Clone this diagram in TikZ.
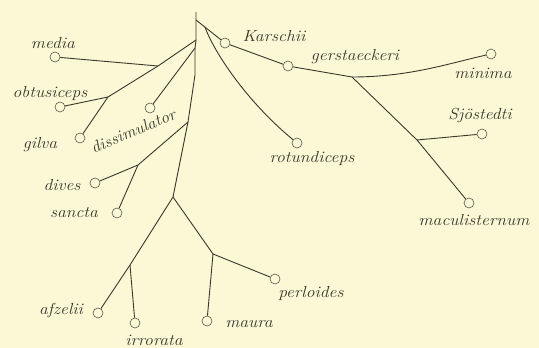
\documentclass[tikz,border=0pt]{standalone}
\usepackage{fontspec}
\definecolor{paper}{HTML}{FCF8D6}
\definecolor{ink}{HTML}{3A372C}
\definecolor{ringc}{HTML}{5A564C}
\tikzset{
  leaf/.style={circle,draw=ringc,line width=0.6pt,fill=paper,minimum size=10pt,inner sep=0pt},
  branch/.style={draw=ink,line width=0.9pt,line join=round},
  taxon/.style={text=ink,inner sep=0pt,xscale=1.1,transform shape,
    font=\fontsize{16}{16}\selectfont\itshape\addfontfeature{LetterSpace=12}}
}
\begin{document}
\begin{tikzpicture}[x=1pt,y=-1pt]
\fill[paper] (0,0) rectangle (539,348);
\useasboundingbox (0,0) rectangle (539,348);

% forks along the main stem
\coordinate (top) at (196,12);
\coordinate (kb)  at (196,20);
\coordinate (rb)  at (205,27);
\coordinate (jm)  at (196,40);
\coordinate (jd)  at (195,48);
\coordinate (t1)  at (195,75);
\coordinate (jdv) at (188,122);
\coordinate (t2)  at (178,172);
\coordinate (jlow) at (173,197);
% side forks
\coordinate (jmed) at (158,66);
\coordinate (job)  at (108,97);
\coordinate (jds)  at (138,165);
\coordinate (jaf)  at (130,265);
\coordinate (jma)  at (213,254);
\coordinate (jge)  at (352,77);
\coordinate (jsj)  at (417,140);

% terminal rings
\node[leaf] (media)        at (55,57)  {};
\node[leaf] (obtusiceps)   at (60,107) {};
\node[leaf] (gilva)        at (80,138) {};
\node[leaf] (dissimulator) at (150,108) {};
\node[leaf] (dives)        at (95,183) {};
\node[leaf] (sancta)       at (117,213) {};
\node[leaf] (afzelii)      at (98,313) {};
\node[leaf] (irrorata)     at (135,323) {};
\node[leaf] (maura)        at (207,321) {};
\node[leaf] (perloides)    at (275,279) {};
\node[leaf] (rotundiceps)  at (297,143) {};
\node[leaf] (karschii)     at (225,43) {};
\node[leaf] (gerstaeckeri) at (288,66) {};
\node[leaf] (minima)       at (491,54) {};
\node[leaf] (sjostedti)    at (482,134) {};
\node[leaf] (maculisternum) at (469,203) {};

% main stem
\draw[branch] (top) -- (jm) -- (jd) -- (t1) -- (jdv) -- (t2) -- (jlow);

% left side
\draw[branch] (jm) -- (jmed) -- (job) -- (gilva);
\draw[branch] (jmed) -- (media);
\draw[branch] (job) -- (obtusiceps);
\draw[branch] (jd) -- (dissimulator);
\draw[branch] (jdv) -- (jds) -- (dives);
\draw[branch] (jds) -- (sancta);

% lower group
\draw[branch] (jlow) -- (jaf) -- (afzelii);
\draw[branch] (jaf) -- (irrorata);
\draw[branch] (jlow) -- (jma) -- (maura);
\draw[branch] (jma) -- (perloides);

% right side
\draw[branch] (kb) -- (karschii);
\draw[branch] (karschii) -- (gerstaeckeri);
\draw[branch] (gerstaeckeri) -- (jge);
\draw[branch] (jge) .. controls (410,77) and (450,63) .. (minima);
\draw[branch] (jge) -- (jsj) -- (maculisternum);
\draw[branch] (jsj) -- (sjostedti);
\draw[branch] (rb) .. controls (213,50) and (245,100) .. (rotundiceps);

% names
\node[taxon] (media-l)        at (53,43)   {media};
\node[taxon] (obtusiceps-l)   at (50,93)   {obtusiceps};
\node[taxon] (gilva-l)        at (40,145)  {gilva};
\node[taxon,rotate=25] (dissimulator-l) at (133,131) {dissimulator};
\node[taxon] (dives-l)        at (62,185)  {dives};
\node[taxon] (sancta-l)       at (74,213)  {sancta};
\node[taxon] (afzelii-l)      at (61,310)  {afzelii};
\node[taxon] (irrorata-l)     at (154,340) {irrorata};
\node[taxon] (maura-l)        at (249,324) {maura};
\node[taxon] (perloides-l)    at (311,293) {perloides};
\node[taxon] (rotundiceps-l)  at (312,158) {rotundiceps};
\node[taxon] (karschii-l)     at (274,36)  {Karschii};
\node[taxon] (gerstaeckeri-l) at (355,57)  {gerstaeckeri};
\node[taxon] (minima-l)       at (483,73)  {minima};
\node[taxon] (sjostedti-l)    at (480,115) {Sjöstedti};
\node[taxon] (maculisternum-l) at (474,220) {maculisternum};
\end{tikzpicture}
\end{document}
